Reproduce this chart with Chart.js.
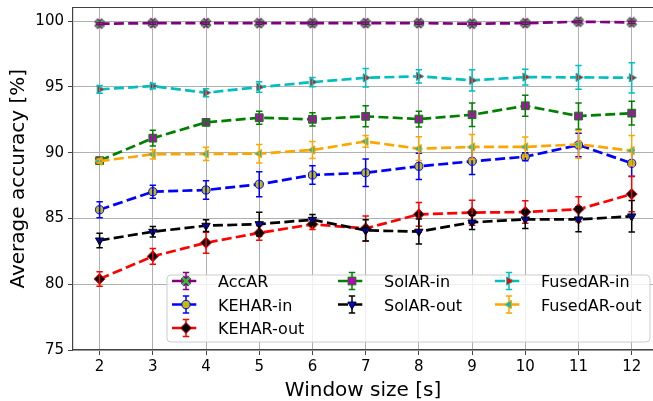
<!DOCTYPE html>
<html><head><meta charset="utf-8">
<script src="https://cdn.jsdelivr.net/npm/chart.js@4/dist/chart.umd.min.js"></script>
<style>html,body{margin:0;padding:0;background:#fff;overflow:hidden}</style>
</head><body>
<canvas id="c" width="653" height="401"></canvas>
<script>
// ---- data ----
const windowSizes = [2, 3, 4, 5, 6, 7, 8, 9, 10, 11, 12];
const yTicks = [75, 80, 85, 90, 95, 100];
const seriesLabels = ['AccAR', 'KEHAR-in', 'KEHAR-out', 'SolAR-in', 'SolAR-out', 'FusedAR-in', 'FusedAR-out'];

const accAR        = [99.80, 99.84, 99.84, 99.84, 99.84, 99.84, 99.84, 99.80, 99.84, 99.95, 99.90];
const accARErr     = [0.08, 0.08, 0.08, 0.08, 0.08, 0.08, 0.08, 0.08, 0.08, 0.08, 0.08];
const keharIn      = [85.66, 87.03, 87.16, 87.59, 88.30, 88.47, 88.96, 89.34, 89.69, 90.58, 89.19];
const keharInErr   = [0.60, 0.50, 0.70, 0.95, 0.70, 1.05, 1.00, 1.00, 0.30, 0.90, 1.00];
const keharOut     = [80.40, 82.12, 83.15, 83.90, 84.55, 84.24, 85.31, 85.44, 85.49, 85.69, 86.85];
const keharOutErr  = [0.55, 0.60, 0.80, 0.55, 0.40, 0.95, 0.90, 0.95, 0.85, 0.95, 1.35];
const solarIn      = [89.39, 91.10, 92.30, 92.65, 92.53, 92.76, 92.55, 92.88, 93.56, 92.78, 93.00];
const solarInErr   = [0.15, 0.60, 0.15, 0.50, 0.50, 0.80, 0.60, 0.90, 0.80, 1.00, 0.90];
const solarOut     = [83.33, 83.99, 84.45, 84.57, 84.90, 84.09, 84.00, 84.70, 84.93, 84.93, 85.16];
const solarOutErr  = [0.55, 0.40, 0.45, 0.90, 0.40, 0.80, 0.95, 0.55, 0.70, 0.95, 1.20];
const fusedIn      = [94.81, 95.06, 94.55, 94.98, 95.36, 95.69, 95.80, 95.49, 95.74, 95.72, 95.69];
const fusedInErr   = [0.30, 0.20, 0.30, 0.40, 0.35, 0.70, 0.50, 0.80, 0.60, 0.90, 1.15];
const fusedOut     = [89.36, 89.87, 89.90, 89.92, 90.20, 90.85, 90.30, 90.43, 90.43, 90.63, 90.15];
const fusedOutErr  = [0.15, 0.35, 0.50, 0.70, 0.65, 0.45, 0.90, 0.95, 0.75, 1.05, 1.15];

const seriesValues = [accAR, keharIn, keharOut, solarIn, solarOut, fusedIn, fusedOut];
const seriesErrors = [accARErr, keharInErr, keharOutErr, solarInErr, solarOutErr, fusedInErr, fusedOutErr];

// ---- styles ----
const FONT = "'DejaVu Sans', 'Liberation Sans', sans-serif";
function makeXMarker() {
  const c = document.createElement('canvas');
  c.width = 12; c.height = 12;
  const g = c.getContext('2d');
  g.lineCap = 'butt';
  const d = () => { g.beginPath(); g.moveTo(2.3, 2.3); g.lineTo(9.7, 9.7); g.moveTo(9.7, 2.3); g.lineTo(2.3, 9.7); g.stroke(); };
  g.strokeStyle = '#800080'; g.lineWidth = 4.8; d();
  g.strokeStyle = '#33c133'; g.lineWidth = 2.4; d();
  return c;
}
const xMarker = makeXMarker();
const styles = [
  {line: '#800080', face: '#33c133', style: xMarker, rot: 0, r: 5},
  {line: '#0000ff', face: '#bfbf00', style: 'circle', rot: 0, r: 4.1},
  {line: '#ff0000', face: '#000000', style: 'rectRot', rot: 0, r: 5.5},
  {line: '#008000', face: '#bf00bf', style: 'rect', rot: 0, r: 5.5},
  {line: '#000000', face: '#0000ff', style: 'triangle', rot: 180, r: 4.8},
  {line: '#00bfbf', face: '#ff0000', style: 'triangle', rot: 90, r: 4.8},
  {line: '#ffa500', face: '#00bfbf', style: 'triangle', rot: 270, r: 4.8},
];

const datasets = seriesLabels.map((lab, i) => ({
  label: lab,
  data: windowSizes.map((x, j) => ({x: x, y: seriesValues[i][j]})),
  errors: seriesErrors[i],
  borderColor: styles[i].line,
  backgroundColor: styles[i].face,
  borderWidth: 2.7,
  borderDash: [10, 4.3],
  pointStyle: styles[i].style,
  pointRotation: styles[i].rot,
  pointRadius: styles[i].r,
  pointBorderColor: styles[i].line,
  pointBackgroundColor: styles[i].face,
  pointBorderWidth: 1,
  tension: 0,
  fill: false,
  order: seriesLabels.length - i,
}));

const SPINE = '#444444';
const errorBars = {
  id: 'errorBars',
  afterDatasetDraw(chart, args) {
    const ds = chart.data.datasets[args.index];
    const xs = chart.scales.x, ys = chart.scales.y, ctx = chart.ctx;
    ctx.save();
    ctx.strokeStyle = ds.borderColor;
    ctx.lineWidth = 1.5;
    ctx.setLineDash([]);
    ds.data.forEach((p, j) => {
      const e = ds.errors[j];
      const x = xs.getPixelForValue(p.x);
      const y1 = ys.getPixelForValue(p.y - e), y2 = ys.getPixelForValue(p.y + e);
      ctx.beginPath();
      ctx.moveTo(x, y1); ctx.lineTo(x, y2);
      ctx.moveTo(x - 3.2, y1); ctx.lineTo(x + 3.2, y1);
      ctx.moveTo(x - 3.2, y2); ctx.lineTo(x + 3.2, y2);
      ctx.stroke();
    });
    ctx.restore();
  },
  afterDraw(chart) {
    const ctx = chart.ctx, a = chart.chartArea;
    ctx.save();
    // top spine
    ctx.strokeStyle = SPINE; ctx.lineWidth = 1.2;
    ctx.beginPath(); ctx.moveTo(a.left, a.top); ctx.lineTo(a.right, a.top); ctx.stroke();
    // legend frame
    const L = 167, T = 275, R = 650, B = 342, rad = 4;
    ctx.beginPath();
    ctx.moveTo(L + rad, T); ctx.lineTo(R - rad, T); ctx.quadraticCurveTo(R, T, R, T + rad);
    ctx.lineTo(R, B - rad); ctx.quadraticCurveTo(R, B, R - rad, B);
    ctx.lineTo(L + rad, B); ctx.quadraticCurveTo(L, B, L, B - rad);
    ctx.lineTo(L, T + rad); ctx.quadraticCurveTo(L, T, L + rad, T);
    ctx.closePath();
    ctx.fillStyle = 'rgba(255,255,255,0.8)'; ctx.fill();
    ctx.strokeStyle = '#cccccc'; ctx.lineWidth = 1; ctx.stroke();
    // entries (column-major, 3 rows)
    const colX = [172, 338, 495];
    const rowY = [281, 304.5, 328];
    const layout = [[0,0],[0,1],[0,2],[1,0],[1,1],[2,0],[2,1]];
    chart.data.datasets.forEach((ds, i) => {
      const [c, r] = layout[i];
      const x0 = colX[c], y = rowY[r], cx = x0 + 14;
      ctx.save();
      ctx.strokeStyle = ds.borderColor; ctx.lineWidth = 2.7; ctx.setLineDash([10, 4.3]);
      ctx.beginPath(); ctx.moveTo(x0, y); ctx.lineTo(x0 + 28, y); ctx.stroke();
      ctx.setLineDash([]); ctx.lineWidth = 1.5;
      ctx.beginPath();
      ctx.moveTo(cx, y - 8.5); ctx.lineTo(cx, y + 8.5);
      ctx.moveTo(cx - 3.2, y - 8.5); ctx.lineTo(cx + 3.2, y - 8.5);
      ctx.moveTo(cx - 3.2, y + 8.5); ctx.lineTo(cx + 3.2, y + 8.5);
      ctx.stroke();
      ctx.fillStyle = ds.pointBackgroundColor; ctx.strokeStyle = ds.pointBorderColor; ctx.lineWidth = 1;
      Chart.helpers.drawPoint(ctx, {pointStyle: ds.pointStyle, rotation: ds.pointRotation, radius: ds.pointRadius, borderWidth: 1}, cx, y);
      ctx.fillStyle = '#000'; ctx.font = '16px ' + FONT; ctx.textBaseline = 'alphabetic';
      ctx.fillText(ds.label, x0 + 46, y + 6);
      ctx.restore();
    });
    ctx.restore();
  }
};

new Chart(document.getElementById('c'), {
  type: 'line',
  data: {datasets: datasets},
  options: {
    responsive: false,
    animation: false,
    layout: {autoPadding: false, padding: {left: 0, right: 0, top: 7.5, bottom: 0}},
    plugins: {legend: {display: false}, tooltip: {enabled: false}},
    scales: {
      x: {
        type: 'linear', min: 1.5, max: 12.4,
        afterBuildTicks: s => { s.ticks = windowSizes.map(v => ({value: v})); },
        afterFit: s => { s.height = 51; s.paddingLeft = 0; s.paddingRight = 0; },
        grid: {color: '#b0b0b0', lineWidth: 1, tickColor: SPINE, tickLength: 5, drawTicks: true},
        border: {display: true, color: SPINE, width: 1.2},
        ticks: {color: '#000', font: {family: FONT, size: 15}, padding: 3, maxRotation: 0, autoSkip: false, callback: v => String(v)},
        title: {display: true, text: 'Window size [s]', color: '#000', font: {family: FONT, size: 20, lineHeight: 1}, padding: {top: -2, bottom: 0}}
      },
      y: {
        type: 'linear', min: 75, max: 101.03,
        afterBuildTicks: s => { s.ticks = yTicks.map(v => ({value: v})); },
        afterFit: s => { s.width = 73; s.paddingTop = 0; s.paddingBottom = 0; },
        grid: {color: '#b0b0b0', lineWidth: 1, tickColor: SPINE, tickLength: 5, drawTicks: true},
        border: {display: true, color: SPINE, width: 1.2},
        ticks: {color: '#000', font: {family: FONT, size: 15}, padding: 4, autoSkip: false, callback: v => String(v)},
        title: {display: true, text: 'Average accuracy [%]', color: '#000', font: {family: FONT, size: 20, lineHeight: 1.2}, padding: {top: 7, bottom: 0}}
      }
    }
  },
  plugins: [errorBars]
});
</script>
</body></html>
